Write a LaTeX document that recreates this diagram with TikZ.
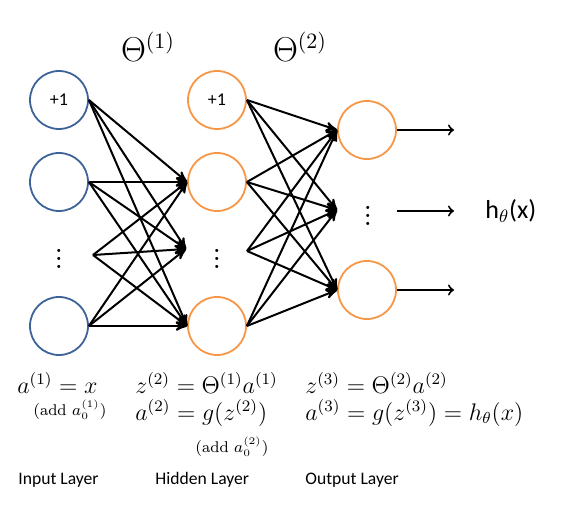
\documentclass[tikz,border=0pt]{standalone}
\usepackage{amsmath}
\usepackage{fontspec}
\setsansfont{Carlito}
\usetikzlibrary{arrows}
\definecolor{inblue}{HTML}{3D6399}
\definecolor{hidorange}{HTML}{F79646}

\begin{document}
\begin{tikzpicture}[->,>=stealth',x=0.5pt,y=-0.5pt,
        neuron/.style={circle,draw,line width=0.9pt,minimum size=29pt,inner sep=0pt,font=\sffamily\small},
        input/.style={neuron,draw=inblue},
        hidden/.style={neuron,draw=hidorange},
        dotsnode/.style={inner sep=0pt,font=\fontsize{19}{21}\selectfont},
        formula/.style={anchor=west,inner sep=0pt,font=\fontsize{12}{14}\selectfont},
        addnote/.style={anchor=west,inner sep=0pt,font=\fontsize{7.8}{9}\selectfont},
        layer/.style={anchor=west,inner sep=0pt,font=\sffamily\fontsize{8.8}{10}\selectfont},
        link/.style={line width=1pt}]

  \useasboundingbox (0,0) rectangle (572,507);

  % input layer
  \node[input] (In Bias) at (59,100) {+1};
  \node[input] (In Unit) at (59,182) {};
  \node[dotsnode] (In Dots) at (59,253) {$\vdots$};
  \node[input] (In Last) at (59,326) {};

  % hidden layer
  \node[hidden] (Hid Bias) at (217,100) {+1};
  \node[hidden] (Hid Unit) at (217,182) {};
  \node[dotsnode] (Hid Dots) at (217,253) {$\vdots$};
  \node[hidden] (Hid Last) at (217,326) {};

  % output layer
  \node[hidden] (Out First) at (367,130) {};
  \node[dotsnode] (Out Dots) at (368,210) {$\vdots$};
  \node[hidden] (Out Last) at (367,290) {};

  \coordinate (In Dots Out) at (93,255);
  \coordinate (Hid Dots In) at (186,249);
  \coordinate (Hid Dots Out) at (247,251);
  \coordinate (Out Dots In) at (337,210);
  \coordinate (Out Dots Out) at (397,211);
  \coordinate (Y First) at (454,130);
  \coordinate (Y Dots) at (454,211);
  \coordinate (Y Last) at (454,290);

  \node (Theta One) at (148,47) {\fontsize{16}{18}\selectfont$\Theta^{(1)}$};
  \node (Theta Two) at (300,47) {\fontsize{16}{18}\selectfont$\Theta^{(2)}$};
  \node[anchor=west,inner sep=0pt] (Hypothesis) at (485,211) {\sffamily\fontsize{13}{15}\selectfont h$_\theta$(x)};

  \path[link] (In Bias.east) edge (Hid Unit.west)
        (In Bias.east) edge (Hid Dots In)
        (In Bias.east) edge (Hid Last.west)
        (In Unit.east) edge (Hid Unit.west)
        (In Unit.east) edge (Hid Dots In)
        (In Unit.east) edge (Hid Last.west)
        (In Dots Out) edge (Hid Unit.west)
        (In Dots Out) edge (Hid Dots In)
        (In Dots Out) edge (Hid Last.west)
        (In Last.east) edge (Hid Unit.west)
        (In Last.east) edge (Hid Dots In)
        (In Last.east) edge (Hid Last.west);

  \path[link] (Hid Bias.east) edge (Out First.west)
        (Hid Bias.east) edge (Out Dots In)
        (Hid Bias.east) edge (Out Last.west)
        (Hid Unit.east) edge (Out First.west)
        (Hid Unit.east) edge (Out Dots In)
        (Hid Unit.east) edge (Out Last.west)
        (Hid Dots Out) edge (Out First.west)
        (Hid Dots Out) edge (Out Dots In)
        (Hid Dots Out) edge (Out Last.west)
        (Hid Last.east) edge (Out First.west)
        (Hid Last.east) edge (Out Dots In)
        (Hid Last.east) edge (Out Last.west);

  \path[link,-to] (Out First.east) edge (Y First)
        (Out Dots Out) edge (Y Dots)
        (Out Last.east) edge (Y Last);

  % equations
  \node[formula] (Eq In) at (17,383) {$a^{(1)} = x$};
  \node[addnote] (Add In) at (33,410) {$(\text{add } a_0^{(1)})$};
  \node[formula] (Eq Hid Z) at (135,383) {$z^{(2)} = \Theta^{(1)} a^{(1)}$};
  \node[formula] (Eq Hid A) at (135,413) {$a^{(2)} = g(z^{(2)})$};
  \node[addnote] (Add Hid) at (195,447) {$(\text{add } a_0^{(2)})$};
  \node[formula] (Eq Out Z) at (305,383) {$z^{(3)} = \Theta^{(2)} a^{(2)}$};
  \node[formula] (Eq Out A) at (305,413) {$a^{(3)} = g(z^{(3)}) = h_\theta(x)$};

  \node[layer] (Input Layer) at (18,480) {Input Layer};
  \node[layer] (Hidden Layer) at (155,480) {Hidden Layer};
  \node[layer] (Output Layer) at (305,480) {Output Layer};
\end{tikzpicture}
\end{document}
